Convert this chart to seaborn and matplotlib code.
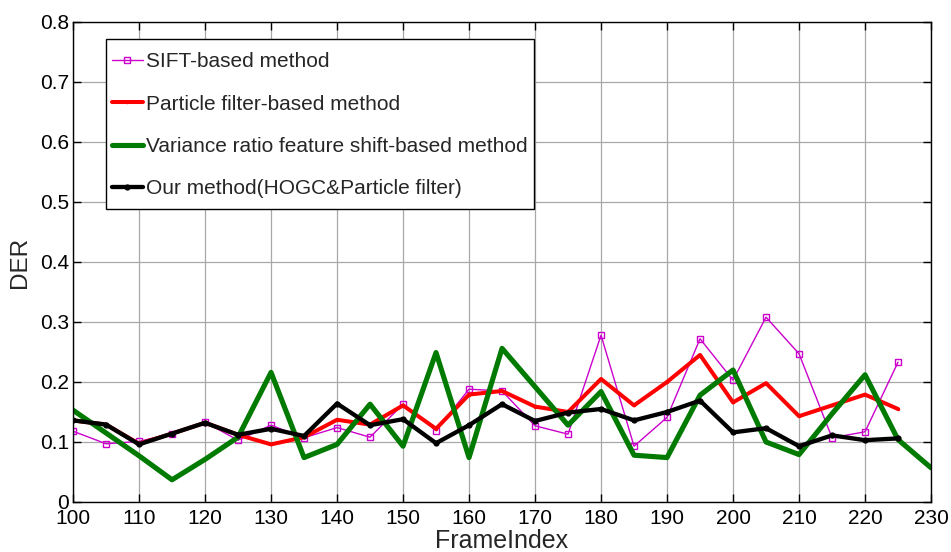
import numpy as np
import pandas as pd
import seaborn as sns
import matplotlib
matplotlib.use("Agg")
import matplotlib.pyplot as plt
from matplotlib.patches import Rectangle
from matplotlib.transforms import IdentityTransform

frames = list(range(100, 230, 5))          # 100..225
frames_green = list(range(100, 235, 5))    # 100..230

sift = [0.118, 0.097, 0.101, 0.114, 0.133, 0.103, 0.128, 0.107, 0.124, 0.108,
        0.163, 0.119, 0.188, 0.185, 0.127, 0.113, 0.278, 0.093, 0.141, 0.272,
        0.203, 0.308, 0.247, 0.107, 0.117, 0.233]
particle = [0.136, 0.129, 0.097, 0.114, 0.132, 0.112, 0.096, 0.108, 0.137, 0.129,
            0.161, 0.122, 0.179, 0.185, 0.159, 0.150, 0.205, 0.161, 0.200, 0.245,
            0.166, 0.198, 0.143, 0.161, 0.179, 0.155]
variance = [0.153, 0.115, 0.077, 0.037, 0.071, 0.108, 0.216, 0.074, 0.096, 0.163,
            0.093, 0.249, 0.074, 0.256, 0.192, 0.128, 0.184, 0.078, 0.074, 0.178,
            0.220, 0.100, 0.079, 0.147, 0.212, 0.104, 0.057]
ours = [0.136, 0.129, 0.096, 0.114, 0.132, 0.112, 0.122, 0.110, 0.164, 0.128,
        0.138, 0.098, 0.128, 0.163, 0.135, 0.149, 0.155, 0.136, 0.150, 0.169,
        0.116, 0.123, 0.093, 0.111, 0.103, 0.106]

labels = ["SIFT-based method", "Particle filter-based method",
          "Variance ratio feature shift-based method",
          "Our method(HOGC&Particle filter)"]
x_ticks = list(range(100, 231, 10))
y_ticks = [0, 0.1, 0.2, 0.3, 0.4, 0.5, 0.6, 0.7, 0.8]

sns.set_style("whitegrid")
plt.rcParams['font.family'] = ['Liberation Sans', 'DejaVu Sans']

fig = plt.figure(figsize=(9.51, 5.52), dpi=100)
ax = fig.add_axes([0.0768, 0.0906, 0.9022, 0.8696])

sns.lineplot(x=frames, y=sift, ax=ax, color="#cc00cc", lw=1.0, marker="s",
             markersize=5, markerfacecolor="none", markeredgecolor="#cc00cc",
             markeredgewidth=1.0, label=labels[0])
sns.lineplot(x=frames, y=particle, ax=ax, color="#ff0000", lw=2.9, marker="o",
             markersize=2.5, markeredgewidth=0, label=labels[1])
sns.lineplot(x=frames_green, y=variance, ax=ax, color="#007a00", lw=3.7,
             label=labels[2])
sns.lineplot(x=frames, y=ours, ax=ax, color="black", lw=3.1, marker="o",
             markersize=4.5, markeredgewidth=0, label=labels[3])

ax.set_xlim(100, 230)
ax.set_ylim(0, 0.8)
ax.set_xticks(x_ticks)
ax.set_yticks(y_ticks)
ax.set_yticklabels([f"{v:g}" for v in y_ticks])
ax.grid(True, color="#a8a8a8", lw=0.9)
for s in ax.spines.values():
    s.set_color("black")
    s.set_linewidth(1.0)
ax.tick_params(labelsize=15, length=6, width=1.0, direction="in", colors="black",
               top=True, right=True, bottom=True, left=True)
ax.tick_params(axis="x", pad=5)
ax.tick_params(axis="y", pad=3)
ax.set_xlabel("FrameIndex", fontsize=18, labelpad=1)
ax.set_ylabel("DER", fontsize=17.5, labelpad=6)

leg = ax.legend(loc="upper left", bbox_to_anchor=(0.045, 0.937),
                borderaxespad=0, fontsize=15, frameon=False,
                handlelength=1.5, handletextpad=0.15,
                labelspacing=1.12, borderpad=0.0)

# legend frame with separate horizontal / vertical padding (in pixels)
fig.canvas.draw()
bb = leg.get_window_extent()
pad_x, pad_top, pad_bot = 6, 13, 11
frame = Rectangle((bb.x0 - pad_x, bb.y0 - pad_bot),
                  bb.width + 2 * pad_x, bb.height + pad_top + pad_bot,
                  transform=IdentityTransform(), facecolor="white",
                  edgecolor="black", lw=1.0, clip_on=False,
                  zorder=leg.get_zorder() - 0.1)
ax.add_patch(frame)

fig.savefig("out.png", dpi=100, facecolor="white")
